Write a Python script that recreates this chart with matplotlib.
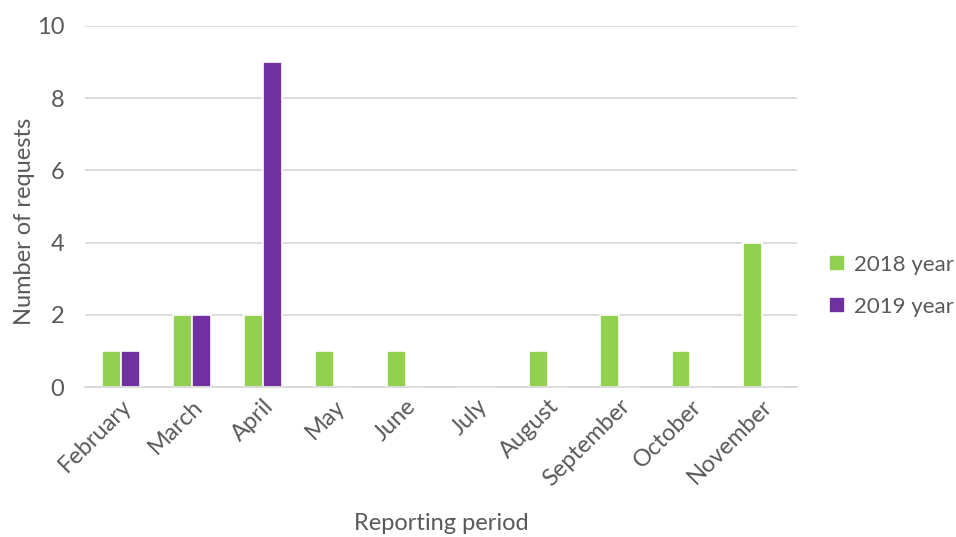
import numpy as np
from matplotlib import pyplot as plt

months = ["February", "March", "April", "May", "June", "July",
          "August", "September", "October", "November"]
y2018 = [1, 2, 2, 1, 1, 0, 1, 2, 1, 4]
y2019 = [1, 2, 9, 0, 0, 0, 0, 0, 0, 0]

plt.rcParams['font.family'] = ['Lato', 'DejaVu Sans']
grey = "#595959"

fig = plt.figure(figsize=(9.56, 5.37), dpi=100)
ax = fig.add_axes([0.089, 0.279, 0.745, 0.673])

x = np.arange(len(months))
w = 0.265
ax.bar(x - w / 2, y2018, w, color="#92D050", edgecolor="white", linewidth=1.2, label="2018 year", zorder=3)
ax.bar(x + w / 2, y2019, w, color="#7030A0", edgecolor="white", linewidth=1.2, label="2019 year", zorder=3)

ax.set_xlim(-0.5, len(months) - 0.5)
ax.set_ylim(0, 10)
ax.set_yticks(range(0, 11, 2))
ax.yaxis.grid(True, color="#d9d9d9", linewidth=1.3, zorder=0)
for s in ["top", "right", "left"]:
    ax.spines[s].set_visible(False)
ax.spines["bottom"].set_color("#d9d9d9")
ax.spines["bottom"].set_linewidth(1.3)
ax.spines["bottom"].set_zorder(5)
ax.tick_params(length=0, colors=grey, labelsize=17)
ax.tick_params(axis="y", pad=15)
ax.tick_params(axis="x", pad=6)
ax.set_xticks(x)
ax.set_xticklabels(months, rotation=45, ha="right", rotation_mode="anchor")

ax.set_ylabel("Number of requests", fontsize=17, color=grey)
ax.yaxis.set_label_coords(-0.071, 0.46)
ax.set_xlabel("Reporting period", fontsize=17, color=grey, labelpad=16)

ax.legend(loc="center left", bbox_to_anchor=(1.045, 0.281), frameon=False,
          borderaxespad=0, borderpad=0,
          fontsize=16, labelcolor=grey, handlelength=0.7, handleheight=0.7,
          handletextpad=0.4, labelspacing=1.0)

fig.savefig("out.png", dpi=100)
